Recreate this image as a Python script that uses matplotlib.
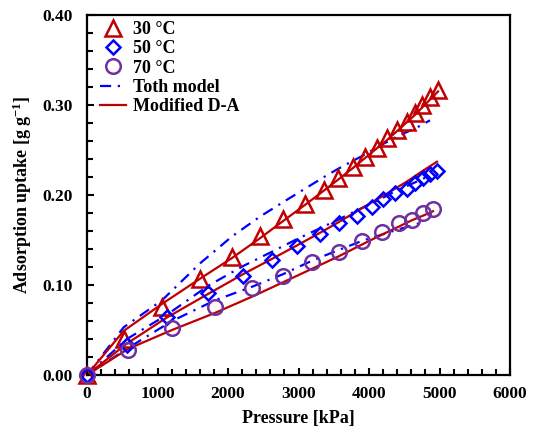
import matplotlib
matplotlib.use("Agg")
import matplotlib.pyplot as plt
from matplotlib.ticker import MultipleLocator, FormatStrFormatter

plt.rcParams['font.family'] = ['Liberation Serif', 'DejaVu Serif']
plt.rcParams['font.weight'] = 'bold'
plt.rcParams['mathtext.fontset'] = 'custom'
plt.rcParams['mathtext.rm'] = 'Liberation Serif:bold'
plt.rcParams['mathtext.bf'] = 'Liberation Serif:bold'
plt.rcParams['mathtext.it'] = 'Liberation Serif:bold'

# Experimental data
p30 = [0, 520, 1064, 1603, 2057, 2454, 2780, 3092, 3362, 3560, 3773, 3943, 4113, 4255, 4397, 4539, 4652, 4752, 4865, 4979]
q30 = [0, 0.040, 0.076, 0.107, 0.131, 0.154, 0.173, 0.190, 0.206, 0.219, 0.231, 0.242, 0.252, 0.263, 0.272, 0.281, 0.291, 0.300, 0.309, 0.317]
p50 = [0, 567, 1135, 1716, 2213, 2624, 2979, 3305, 3574, 3830, 4043, 4199, 4369, 4539, 4652, 4766, 4865, 4965]
q50 = [0, 0.033, 0.064, 0.091, 0.110, 0.128, 0.143, 0.157, 0.169, 0.177, 0.187, 0.196, 0.202, 0.207, 0.213, 0.219, 0.223, 0.227]
p70 = [0, 582, 1206, 1816, 2340, 2780, 3191, 3574, 3901, 4184, 4426, 4610, 4766, 4908]
q70 = [0, 0.028, 0.052, 0.076, 0.097, 0.110, 0.126, 0.137, 0.149, 0.159, 0.169, 0.172, 0.180, 0.184]

# Modified D-A model
da30 = [0, 0.049, 0.079, 0.107, 0.130, 0.152, 0.171, 0.189, 0.205, 0.217, 0.230, 0.241, 0.252, 0.261, 0.271, 0.281, 0.289, 0.297, 0.306, 0.315]
da50 = [0, 0.035, 0.064, 0.090, 0.112, 0.129, 0.144, 0.158, 0.170, 0.182, 0.192, 0.199, 0.207, 0.215, 0.221, 0.227, 0.232, 0.237]
da70 = [0, 0.029, 0.050, 0.069, 0.087, 0.103, 0.118, 0.132, 0.145, 0.156, 0.165, 0.172, 0.177, 0.182]

# Toth model
tp30 = p30[:-1]
toth30 = [0, 0.053, 0.083, 0.124, 0.154, 0.176, 0.192, 0.207, 0.220, 0.229, 0.238, 0.245, 0.253, 0.259, 0.265, 0.270, 0.274, 0.278, 0.283]
tp50 = p50[:-1]
toth50 = [0, 0.040, 0.067, 0.099, 0.121, 0.137, 0.151, 0.163, 0.173, 0.183, 0.191, 0.197, 0.204, 0.210, 0.214, 0.218, 0.222]
tp70 = p70[:-1]
toth70 = [0, 0.030, 0.060, 0.083, 0.098, 0.112, 0.127, 0.139, 0.149, 0.156, 0.162, 0.166, 0.170]

red = '#C00000'
blue = '#0000FF'
purple = '#7030A0'

fig = plt.figure(figsize=(5.34, 4.28), dpi=100)
ax = fig.add_axes([87/534, 1-375/428, (510-87)/534, (375-15)/428])

dd = (0, (5, 3, 1, 3))
ax.plot(tp30, toth30, color=blue, lw=1.6, ls=dd)
ax.plot(tp50, toth50, color=blue, lw=1.6, ls=dd)
ax.plot(tp70, toth70, color=blue, lw=1.6, ls=dd)
ax.plot(p30, da30, color=red, lw=1.6)
ax.plot(p50, da50, color=red, lw=1.6)
ax.plot(p70, da70, color=red, lw=1.6)

h30, = ax.plot(p30, q30, ls='none', marker='^', ms=11.5, mfc='none', mec=red, mew=1.8, clip_on=False, zorder=3)
h50, = ax.plot(p50, q50, ls='none', marker='D', ms=7.5, mfc='none', mec=blue, mew=1.8, clip_on=False, zorder=3)
h70, = ax.plot(p70, q70, ls='none', marker='o', ms=10.5, mfc='none', mec=purple, mew=1.8, clip_on=False, zorder=3)

ht, = ax.plot([], [], color=blue, lw=1.6, ls=dd)
hd, = ax.plot([], [], color=red, lw=1.6)

ax.set_xlim(0, 6000)
ax.set_ylim(0, 0.40)
ax.xaxis.set_major_locator(MultipleLocator(1000))
ax.xaxis.set_minor_locator(MultipleLocator(200))
ax.yaxis.set_major_locator(MultipleLocator(0.10))
ax.yaxis.set_minor_locator(MultipleLocator(0.02))
ax.yaxis.set_major_formatter(FormatStrFormatter('%.2f'))

ax.tick_params(which='both', direction='in', width=1.5, top=False, right=False, labelsize=12.5)
ax.tick_params(which='major', length=5)
ax.tick_params(axis='x', which='major', pad=8)
ax.tick_params(axis='y', which='major', pad=10)
ax.tick_params(which='minor', length=4)
for s in ax.spines.values():
    s.set_linewidth(1.6)

ax.set_xlabel('Pressure [kPa]', fontsize=13, fontweight='bold', labelpad=6)
ax.set_ylabel(r'Adsorption uptake [g g$^{-1}$]', fontsize=13, fontweight='bold', labelpad=6)

ax.legend([h30, h50, h70, ht, hd], ['30 °C', '50 °C', '70 °C', 'Toth model', 'Modified D-A'],
          loc='upper left', frameon=False, fontsize=13, handlelength=1.45,
          handletextpad=0.4, labelspacing=0.13, borderaxespad=0, borderpad=0,
          bbox_to_anchor=((100-87)/423, 1-(21-15)/360))

fig.savefig('out.png', dpi=100)
